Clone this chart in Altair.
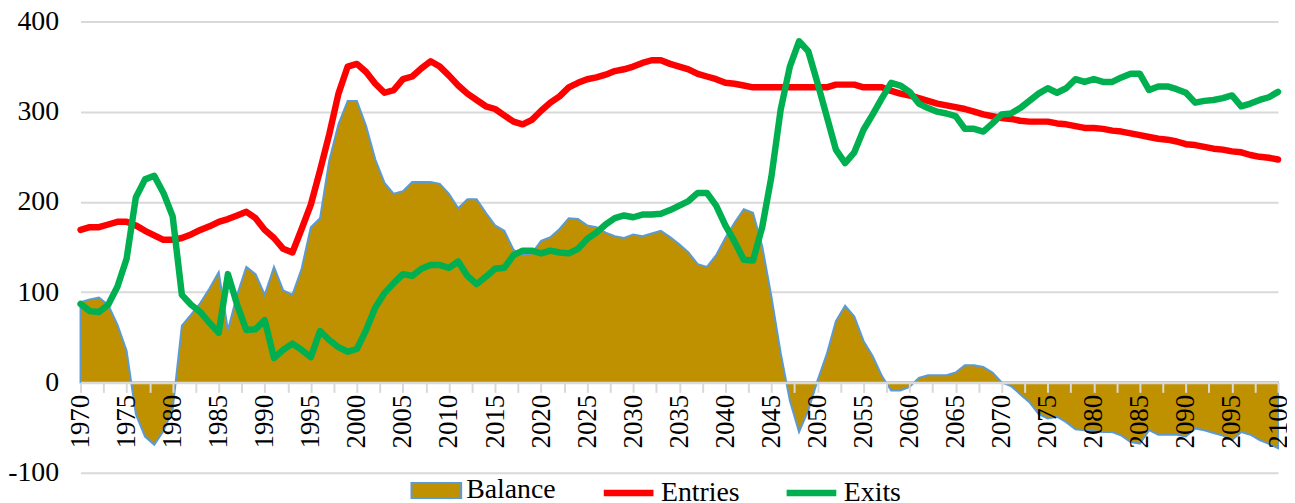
import altair as alt
import pandas as pd

years = list(range(1970, 2101))

entries = [
    169, 172, 172, 175, 178, 178, 174, 168, 163, 158,   # 1970-1979
    158, 160, 164, 169, 173, 178, 181, 185, 189, 182,   # 1980-1989
    169, 160, 148, 144, 170, 197, 235, 275, 320, 350,   # 1990-1999
    353, 344, 331, 321, 324, 336, 339, 348, 356, 350,   # 2000-2009
    340, 329, 320, 313, 306, 303, 296, 289, 286, 291,   # 2010-2019
    301, 310, 317, 327, 332, 336, 338, 341, 345, 347,   # 2020-2029
    350, 354, 357, 357, 353, 350, 347, 342, 339, 336,   # 2030-2039
    332, 331, 329, 327, 327, 327, 327, 327, 327, 327,   # 2040-2049
    327, 327, 330, 330, 330, 327, 327, 327, 323, 320,   # 2050-2059
    318, 315, 312, 309, 307, 305, 303, 300, 297, 295,   # 2060-2069
    293, 292, 290, 289, 289, 289, 287, 286, 284, 282,   # 2070-2079
    282, 281, 279, 278, 276, 274, 272, 270, 269, 267,   # 2080-2089
    264, 263, 261, 259, 258, 256, 255, 252, 250, 249,   # 2090-2099
    247,                                                # 2100
]

exits = [
    87, 79, 78, 86, 106, 137, 205, 225, 229, 210,       # 1970-1979
    184, 97, 86, 78, 66, 55, 120, 86, 58, 59,           # 1980-1989
    69, 27, 36, 43, 36, 28, 57, 47, 39, 34,             # 1990-1999
    37, 58, 83, 99, 110, 120, 118, 126, 130, 130,       # 2000-2009
    127, 134, 118, 109, 117, 126, 127, 141, 146, 146,   # 2010-2019
    143, 146, 144, 143, 148, 159, 166, 175, 182, 185,   # 2020-2029
    183, 186, 186, 187, 191, 196, 201, 210, 210, 196,   # 2030-2039
    174, 156, 136, 135, 172, 228, 302, 350, 378, 367,   # 2040-2049
    332, 295, 258, 243, 255, 280, 297, 315, 332, 329,   # 2050-2059
    322, 309, 304, 300, 298, 295, 281, 281, 278, 287,   # 2060-2069
    297, 298, 304, 312, 320, 326, 321, 326, 336, 333,   # 2070-2079
    336, 333, 333, 338, 342, 342, 324, 328, 328, 325,   # 2080-2089
    321, 310, 312, 313, 315, 318, 306, 309, 313, 316,   # 2090-2099
    322,                                                # 2100
]

balance = [
    89, 92, 94, 86, 64, 35, -35, -60, -69, -54,         # 1970-1979
    -30, 63, 75, 88, 104, 122, 58, 97, 128, 120,        # 1980-1989
    97, 128, 102, 97, 126, 172, 182, 246, 286, 312,     # 1990-1999
    312, 284, 247, 221, 209, 212, 222, 222, 222, 220,   # 2000-2009
    209, 193, 203, 203, 188, 174, 168, 147, 141, 143,   # 2010-2019
    157, 161, 170, 182, 181, 174, 172, 166, 162, 160,   # 2020-2029
    164, 162, 165, 168, 161, 153, 144, 131, 128, 141,   # 2030-2039
    160, 177, 192, 188, 151, 95, 33, -20, -55, -31,     # 2040-2049
    2, 31, 68, 85, 73, 46, 29, 7, -9, -9,               # 2050-2059
    -5, 5, 8, 8, 8, 11, 19, 19, 17, 11,                 # 2060-2069
    0, -4, -13, -22, -35, -40, -38, -44, -52, -53,      # 2070-2079
    -54, -55, -55, -59, -66, -68, -53, -58, -58, -58,   # 2080-2089
    -60, -51, -53, -56, -59, -64, -55, -58, -64, -68,   # 2090-2099
    -73,                                                # 2100
]

series_names = ["Balance", "Entries", "Exits"]
series_colors = ["#BF9000", "#FF0000", "#00B050"]
y_ticks = [-100, 0, 100, 200, 300, 400]
x_ticks = [1970 + 2.5 * i for i in range(53)]

df = pd.DataFrame({
    "year": years * 3,
    "series": ["Balance"] * len(years) + ["Entries"] * len(years) + ["Exits"] * len(years),
    "value": balance + entries + exits,
})

FONT = "Liberation Serif"

x_enc = alt.X(
    "year:Q",
    title=None,
    scale=alt.Scale(domain=[1970, 2100], nice=False, zero=False),
    axis=alt.Axis(
        values=x_ticks,
        labelExpr="datum.value % 5 === 0 ? '' + datum.value : ''",
        labelAngle=-90,
        labelFont=FONT,
        labelFontSize=27,
        labelColor="black",
        labelPadding=2,
        labelOverlap=False,
        labelFlush=False,
        grid=False,
        domainColor="#D9D9D9",
        domainWidth=2.5,
        tickColor="#D9D9D9",
        tickWidth=2,
        tickSize=10,
        offset=-90.8,
        zindex=1,
    ),
)

y_enc = alt.Y(
    "value:Q",
    title=None,
    scale=alt.Scale(domain=[-100, 400], nice=False),
    axis=alt.Axis(
        values=y_ticks,
        labelExpr="'' + datum.value",
        labelFont=FONT,
        labelFontSize=28,
        labelColor="black",
        labelPadding=22,
        domain=False,
        ticks=False,
        grid=True,
        gridColor="#D9D9D9",
        gridWidth=2,
    ),
)


def make_legend(x, shape, stroke, stroke_width, fill):
    return alt.Legend(
        title=None,
        orient="none",
        legendX=x,
        legendY=446,
        direction="horizontal",
        labelFont=FONT,
        labelFontSize=28,
        labelColor="black",
        labelOffset=4,
        symbolSize=2500,
        symbolType=shape,
        symbolStrokeColor=stroke,
        symbolStrokeWidth=stroke_width,
        symbolFillColor=fill,
        symbolOpacity=1,
    )


def color_for(i, legend):
    return alt.Color(
        "series:N",
        scale=alt.Scale(domain=[series_names[i]], range=[series_colors[i]]),
        legend=legend,
    )


base = alt.Chart(df)

area = base.transform_filter("datum.series === 'Balance'").mark_area(
    stroke="#5B9BD5", strokeWidth=2, fillOpacity=1, opacity=1
).encode(
    x=x_enc, y=y_enc, y2=alt.datum(0),
    color=color_for(0, make_legend(332, "M-1,-0.3H1V0.3H-1Z", "#5B9BD5", 2, "#BF9000")),
)

line_entries = base.transform_filter("datum.series === 'Entries'").mark_line(
    strokeWidth=6.5, strokeCap="round", strokeJoin="round"
).encode(
    x=x_enc, y=y_enc,
    color=color_for(1, make_legend(523, "stroke", "#FF0000", 6.5, "#FF0000")),
)

line_exits = base.transform_filter("datum.series === 'Exits'").mark_line(
    strokeWidth=6.5, strokeCap="round", strokeJoin="round"
).encode(
    x=x_enc, y=y_enc,
    color=color_for(2, make_legend(707, "stroke", "#00B050", 6.5, "#00B050")),
)

chart = alt.layer(area, line_entries, line_exits).resolve_scale(
    color="independent"
).properties(
    width=1205,
    height=454,
    autosize=alt.AutoSizeParams(type="none"),
    padding={"left": 73, "top": 12, "right": 9, "bottom": 29},
    background="white",
).configure_view(stroke=None)

chart.save("out.html", embed_options={"renderer": "svg", "actions": False})
